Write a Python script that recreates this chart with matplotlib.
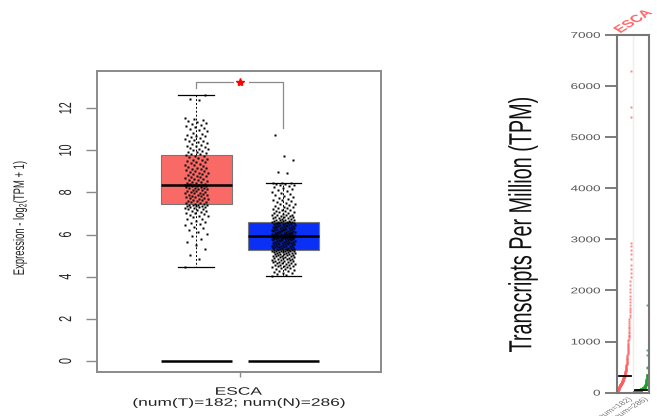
import numpy as np
import matplotlib
matplotlib.use("Agg")
import matplotlib.pyplot as plt
from matplotlib.font_manager import FontProperties
from matplotlib.textpath import TextPath
from matplotlib.patches import PathPatch
from matplotlib.transforms import Affine2D

plt.rcParams['mathtext.default'] = 'regular'

#==================================#
##  data: ESCA expression, log2(TPM+1)

cancer = "ESCA"
n_tumor, n_normal = 182, 286

tumor_log2 = [
    4.47, 4.83, 5.05, 5.31, 5.52, 5.64, 5.80, 5.93, 6.04, 6.12,
    6.22, 6.29, 6.35, 6.44, 6.49, 6.55, 6.61, 6.66, 6.72, 6.75,
    6.81, 6.86, 6.89, 6.94, 6.98, 7.01, 7.04, 7.09, 7.12, 7.13,
    7.17, 7.20, 7.22, 7.25, 7.27, 7.29, 7.31, 7.33, 7.34, 7.36,
    7.37, 7.39, 7.40, 7.41, 7.42,
    7.44, 7.46, 7.49, 7.50, 7.53, 7.56, 7.58, 7.60, 7.63, 7.65,
    7.67, 7.70, 7.72, 7.74, 7.76, 7.79, 7.81, 7.83, 7.86, 7.88,
    7.90, 7.92, 7.95, 7.97, 7.99, 8.02, 8.04, 8.06, 8.08, 8.11,
    8.13, 8.15, 8.17, 8.19, 8.21, 8.23, 8.25, 8.27, 8.29, 8.31,
    8.32, 8.33, 8.34, 8.35, 8.36, 8.36,
    8.38, 8.41, 8.43, 8.46, 8.49, 8.51, 8.54, 8.57, 8.60, 8.62,
    8.65, 8.68, 8.71, 8.73, 8.76, 8.79, 8.82, 8.85, 8.88, 8.91,
    8.94, 8.97, 9.00, 9.03, 9.06, 9.09, 9.12, 9.15, 9.18, 9.21,
    9.24, 9.28, 9.31, 9.35, 9.38, 9.42, 9.45, 9.49, 9.52, 9.56,
    9.59, 9.63, 9.67, 9.71, 9.75,
    9.77, 9.80, 9.84, 9.87, 9.91, 9.94, 9.98, 10.01, 10.05, 10.08,
    10.12, 10.15, 10.19, 10.22, 10.26, 10.30, 10.34, 10.38, 10.42, 10.46,
    10.50, 10.54, 10.58, 10.62, 10.66, 10.70, 10.74, 10.79, 10.84, 10.89,
    10.94, 10.99, 11.04, 11.09, 11.14, 11.19, 11.24, 11.29, 11.35, 11.41,
    11.45, 11.49, 11.52, 12.40, 12.45, 12.62,
]

normal_log2 = [
    4.04, 4.07, 4.12, 4.16, 4.20, 4.24, 4.26, 4.29, 4.32, 4.35,
    4.37, 4.40, 4.42, 4.44, 4.46, 4.49, 4.51, 4.52, 4.54, 4.56,
    4.58, 4.60, 4.62, 4.63, 4.65, 4.67, 4.68, 4.70, 4.72, 4.73,
    4.75, 4.76, 4.78, 4.80, 4.81, 4.83, 4.84, 4.86, 4.87, 4.89,
    4.90, 4.92, 4.93, 4.95, 4.96, 4.97, 4.99, 5.00, 5.02, 5.03,
    5.04, 5.06, 5.07, 5.08, 5.10, 5.11, 5.12, 5.13, 5.14, 5.16,
    5.17, 5.18, 5.19, 5.20, 5.21, 5.22, 5.22, 5.23, 5.24, 5.25,
    5.25,
    5.26, 5.27, 5.27, 5.29, 5.30, 5.32, 5.32, 5.33, 5.35, 5.36,
    5.37, 5.38, 5.40, 5.40, 5.41, 5.43, 5.44, 5.44, 5.46, 5.47,
    5.48, 5.50, 5.50, 5.51, 5.53, 5.54, 5.55, 5.55, 5.57, 5.58,
    5.59, 5.60, 5.62, 5.62, 5.63, 5.65, 5.65, 5.66, 5.68, 5.69,
    5.69, 5.71, 5.72, 5.73, 5.74, 5.75, 5.76, 5.77, 5.78, 5.79,
    5.80, 5.81, 5.81, 5.82, 5.83, 5.84, 5.85, 5.86, 5.86, 5.87,
    5.88, 5.88, 5.89, 5.89, 5.90, 5.90, 5.90, 5.91, 5.91, 5.91,
    5.91,
    5.92, 5.92, 5.93, 5.94, 5.95, 5.96, 5.96, 5.97, 5.98, 5.99,
    6.00, 6.01, 6.02, 6.02, 6.03, 6.04, 6.05, 6.06, 6.07, 6.08,
    6.08, 6.09, 6.10, 6.11, 6.12, 6.13, 6.14, 6.15, 6.16, 6.17,
    6.18, 6.19, 6.20, 6.21, 6.22, 6.23, 6.24, 6.25, 6.26, 6.27,
    6.28, 6.29, 6.30, 6.31, 6.32, 6.33, 6.35, 6.36, 6.37, 6.38,
    6.39, 6.40, 6.41, 6.42, 6.43, 6.44, 6.45, 6.46, 6.47, 6.49,
    6.50, 6.51, 6.52, 6.53, 6.54, 6.55, 6.56, 6.57, 6.58, 6.58,
    6.59, 6.59,
    6.61, 6.62, 6.63, 6.64, 6.66, 6.68, 6.69, 6.70, 6.71, 6.73,
    6.75, 6.77, 6.79, 6.80, 6.81, 6.83, 6.85, 6.87, 6.89, 6.91,
    6.92, 6.93, 6.95, 6.98, 7.00, 7.02, 7.05, 7.07, 7.10, 7.12,
    7.15, 7.18, 7.21, 7.24, 7.27, 7.30, 7.33, 7.36, 7.40, 7.43,
    7.47, 7.50, 7.54, 7.58, 7.62, 7.66, 7.70, 7.74, 7.79, 7.83,
    7.88, 7.92, 7.97, 8.02, 8.07, 8.12, 8.17, 8.22, 8.26, 8.30,
    8.34, 8.37, 8.40, 8.42, 8.44, 8.45, 8.47,
    8.90, 8.98, 9.53, 9.72, 10.74,
]

box_colors  = ['#F96A66', '#0A30F6']
dot_colors  = ['#FF5C5C', '#1FA02A']
zero_level  = [0, 0]
yticks_log  = [0, 2, 4, 6, 8, 10, 12]
yticks_tpm  = [0, 1000, 2000, 3000, 4000, 5000, 6000, 7000]

#==================================#
##  figure + squashed lettering helper

W, H = 657, 416
fig = plt.figure(figsize=(W / 100, H / 100), dpi=100)

SQ = 0.62   # vertical squash applied to all lettering

def stext(x, y, s, size, rot=0, ha='center', va='center', color='black',
          weight='normal'):
    """draw text as a path at display pixel (x, y), squashed vertically"""
    fp = FontProperties(family='Liberation Sans', weight=weight)
    path = TextPath((0, 0), s, size=size, prop=fp)
    ext = path.get_extents()
    ox = {'left': ext.x0, 'center': 0.5 * (ext.x0 + ext.x1), 'right': ext.x1}[ha]
    oy = {'bottom': ext.y0, 'center': 0.5 * (ext.y0 + ext.y1), 'top': ext.y1,
          'baseline': 0.0}[va]
    tr = (Affine2D().translate(-ox, -oy).scale(fig.dpi / 72.)
          .rotate_deg(rot).scale(1, SQ).translate(x, y))
    fig.add_artist(PathPatch(path, transform=tr, fc=color, ec='none', lw=0))

grey = '#8a8a8a'

#==================================#
##  left panel: box + jitter, log2 scale

ax1 = fig.add_axes([97 / W, (H - 372) / H, 284 / W, 301 / H])
data = [tumor_log2, normal_log2]
pos = [1, 2]

bp = ax1.boxplot(data, positions=pos, widths=0.82, patch_artist=True,
                 showfliers=False, whis=1.5,
                 medianprops=dict(color='black', lw=1.8),
                 whiskerprops=dict(color='black', lw=0.7, ls=(0, (2, 2))),
                 capprops=dict(color='black', lw=0.9),
                 boxprops=dict(edgecolor='#777777', lw=0.8))
for patch, c in zip(bp['boxes'], box_colors):
    patch.set_facecolor(c)

ax1.hlines(zero_level, [p - 0.41 for p in pos], [p + 0.41 for p in pos],
           color='black', lw=1.8, zorder=3)

for p, vals in zip(pos, data):
    v = np.asarray(vals)
    jit = ((np.arange(len(v)) * 0.618034) % 1.0 - 0.5) * 0.27
    ax1.plot(p + jit, v, ls='none', marker='s', ms=1.6, mec='none',
             mfc='black', zorder=4)

# significance bracket
top = max(tumor_log2) + 0.63
ax1.plot([1, 1, 1.42], [max(tumor_log2) + 0.33, top, top], color=grey, lw=0.9)
ax1.plot([1.6, 2, 2], [top, top, max(normal_log2) + 0.31], color=grey, lw=0.9)
ax1.plot([1.5], [top], marker='*', ms=6, color='red', mec='red', ls='none')

ax1.set_xlim(-0.14, 3.12)
ax1.set_ylim(-0.52, 13.76)
ax1.set_yticks(yticks_log)
ax1.set_yticklabels([])
ax1.set_xticks([1.5])
ax1.set_xticklabels([])
ax1.tick_params(axis='y', length=8, width=1.0, color=grey)
ax1.tick_params(axis='x', length=3.5, width=1.0, color=grey)
for s in ax1.spines.values():
    s.set_color(grey)
    s.set_linewidth(1.4)

for v in yticks_log:
    d = ax1.transData.transform((ax1.get_xlim()[0], v))
    stext(65, d[1], f'{v}', 12.5, rot=90, color='#222222')

stext(20, H - 218, 'Expression - log$_2$(TPM + 1)', 11, rot=90, color='#222222')
stext(239, H - 391, cancer, 12.5, color='#222222')
stext(239, H - 403, f'(num(T)={n_tumor}; num(N)={n_normal})', 12.5,
      color='#222222')

#==================================#
##  right panel: sorted TPM dot plot

ax2 = fig.add_axes([617 / W, (H - 392.7) / H, 32 / W, 357.7 / H])
for k, (vals, c) in enumerate(zip(data, dot_colors)):
    tpm = np.sort(2.0 ** np.asarray(vals) - 1.0)
    xs = k + 0.55 + 0.85 * np.arange(len(tpm)) / len(tpm)
    ax2.plot(xs, tpm, ls='none', marker='s', ms=1.4, mec='none', mfc=c,
             alpha=0.75)
    med = np.median(tpm)
    ax2.plot([k + 0.65, k + 1.4], [med, med], color='black', lw=1.3)

ax2.axvline(1.5, color='#eeeeee', lw=1.0, zorder=0)
ax2.set_xlim(0.5, 2.5)
ax2.set_ylim(0, 7000)
ax2.set_xticks([])
ax2.set_yticks(yticks_tpm)
ax2.set_yticklabels([])
ax2.tick_params(axis='y', length=8.5, width=1.2, color='#666666')
for s in ax2.spines.values():
    s.set_color('#777777')
    s.set_linewidth(1.5)

for v in yticks_tpm:
    d = ax2.transData.transform((0.5, v))
    stext(600, d[1], f'{v}', 9.7, ha='right', color='#555555')

stext(523, H - 225, 'Transcripts Per Million (TPM)', 23, rot=90, color='#111111')
stext(621, H - 33, cancer, 12, rot=45, ha='left', va='baseline',
      color='#FF6B6B', weight='bold')
for k, n in enumerate([n_tumor, n_normal]):
    d = ax2.transData.transform((k + 1, 0))
    stext(d[0] + 2, d[1] - 4, f'{cancer}(num={n})', 7, rot=45, ha='right',
          va='top', color='#777777')

fig.savefig("out.png", dpi=100)
